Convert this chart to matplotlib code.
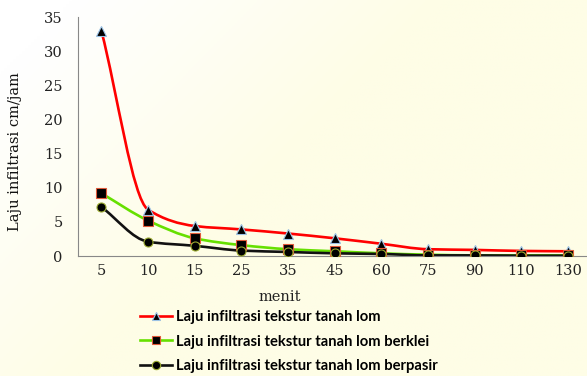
import numpy as np
import matplotlib
matplotlib.use("Agg")
import matplotlib.pyplot as plt
from matplotlib.path import Path
from matplotlib.patches import PathPatch
from matplotlib.lines import Line2D

# infiltration rate (cm/jam) per measurement time (menit)
menit = ["5", "10", "15", "25", "35", "45", "60", "75", "90", "110", "130"]
lom = [33.0, 6.8, 4.4, 3.9, 3.3, 2.6, 1.8, 1.0, 0.9, 0.75, 0.7]
lom_berklei = [9.2, 5.2, 2.6, 1.6, 1.0, 0.7, 0.4, 0.2, 0.1, 0.1, 0.1]
lom_berpasir = [7.2, 2.1, 1.5, 0.8, 0.6, 0.4, 0.3, 0.1, 0.1, 0.05, 0.05]

labels = ["Laju infiltrasi tekstur tanah lom",
          "Laju infiltrasi tekstur tanah lom berklei",
          "Laju infiltrasi tekstur tanah lom berpasir"]
y_ticks = [0, 5, 10, 15, 20, 25, 30, 35]


def smooth_path(x, y):
    """Monotone cubic Bezier through the points (Excel-like smoothed line)."""
    x = np.asarray(x, float)
    y = np.asarray(y, float)
    d = np.diff(y) / np.diff(x)
    m = np.zeros_like(y)
    m[0], m[-1] = d[0], d[-1]
    for i in range(1, len(y) - 1):
        if d[i - 1] * d[i] > 0:
            m[i] = 2 * d[i - 1] * d[i] / (d[i - 1] + d[i])
    verts = [(x[0], y[0])]
    codes = [Path.MOVETO]
    for i in range(len(x) - 1):
        h = x[i + 1] - x[i]
        verts += [(x[i] + h / 3, y[i] + m[i] * h / 3),
                  (x[i + 1] - h / 3, y[i + 1] - m[i + 1] * h / 3),
                  (x[i + 1], y[i + 1])]
        codes += [Path.CURVE4] * 3
    return Path(verts, codes)


fig = plt.figure(figsize=(5.87, 3.76), dpi=100)

# pale paper background, whiter towards the top-left
bg = fig.add_axes([0, 0, 1, 1], zorder=-10)
gx, gy = np.meshgrid(np.linspace(0, 1, 200), np.linspace(0, 1, 130))
t = np.clip((gx * 1.6 + gy * 1.0 - 0.2), 0, 1)
white = np.array([1.0, 1.0, 1.0])
cream = np.array([0xfe, 0xfd, 0xe6]) / 255
img = white[None, None, :] * (1 - t[..., None]) + cream[None, None, :] * t[..., None]
bg.imshow(img, aspect="auto", extent=[0, 1, 0, 1], origin="upper")
bg.axis("off")

ax = fig.add_axes([0.1329, 0.319, 0.8746, 0.6357])
ax.patch.set_alpha(0)

x = np.arange(len(menit))
series = [
    (lom, "#ff0000", "^", "#9cc3e6"),
    (lom_berklei, "#66e000", "s", "#e05a3a"),
    (lom_berpasir, "#111111", "o", "#9aaa30"),
]
handles = []
for (vals, color, marker, edge), lab in zip(series, labels):
    ax.add_patch(PathPatch(smooth_path(x, vals), facecolor="none",
                           edgecolor=color, lw=1.9, zorder=2))
    ax.plot(x, vals, linestyle="none", marker=marker, markersize=6.5,
            markerfacecolor="black", markeredgecolor=edge, markeredgewidth=0.8,
            zorder=3)
    handles.append(Line2D([], [], color=color, lw=1.9, marker=marker,
                          markersize=6, markerfacecolor="black",
                          markeredgecolor=edge, markeredgewidth=0.8))

ax.set_xlim(-0.5, 10.5)
ax.set_ylim(0, 35)
ax.set_xticks(x)
ax.set_xticklabels(menit)
ax.set_yticks(y_ticks)
for s in ["top", "right"]:
    ax.spines[s].set_visible(False)
for s in ["left", "bottom"]:
    ax.spines[s].set_color("#888888")
    ax.spines[s].set_linewidth(0.8)
ax.tick_params(length=0, labelsize=10.5, labelcolor="#222222")
ax.tick_params(axis="y", pad=11)
ax.tick_params(axis="x", pad=6)
for lbl in ax.get_xticklabels() + ax.get_yticklabels():
    lbl.set_family("DejaVu Serif")

fig.text(280 / 587, 1 - 297 / 376, "menit", ha="center", va="center",
         family="DejaVu Serif", fontsize=10.5, color="#222222")
fig.text(15 / 587, 1 - 152 / 376, "Laju infiltrasi cm/jam", rotation=90,
         ha="center", va="center", family="DejaVu Serif", fontsize=10.5,
         color="#111111")

fig.legend(handles, labels, loc="upper left",
           bbox_to_anchor=(140 / 587, 1 - 310 / 376), frameon=False,
           handlelength=2.2, handletextpad=0.25, labelspacing=0.72,
           prop={"family": "Lato", "weight": "bold", "size": 10.6},
           borderpad=0, borderaxespad=0)

fig.savefig("out.png", dpi=100)
